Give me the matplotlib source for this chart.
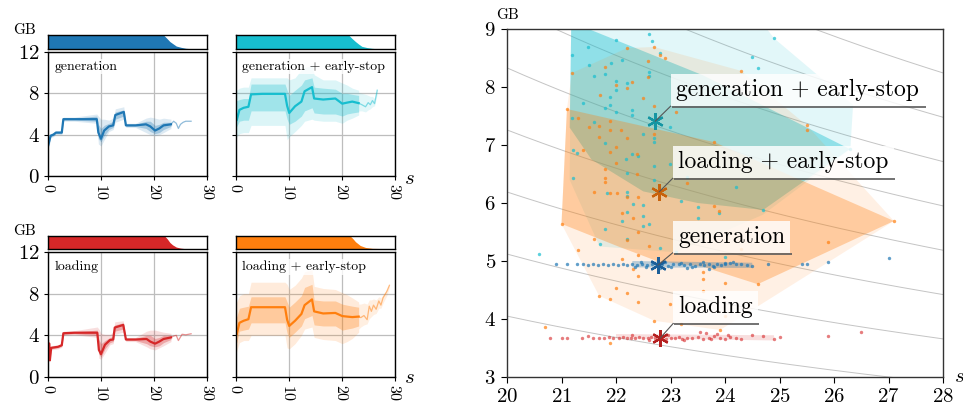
import matplotlib
matplotlib.use("Agg")
import matplotlib.pyplot as plt
import numpy as np

plt.rcParams["font.family"] = ["cmr10", "DejaVu Serif"]
plt.rcParams["mathtext.fontset"] = "cm"
plt.rcParams["axes.formatter.use_mathtext"] = True

BLUE, CYAN, RED, ORANGE = "#1f77b4", "#17becf", "#d62728", "#ff7f0e"

# ---------------- left panels: memory over time (GB vs s) ----------------
# generation
gen_t = [0, 0.3, 0.5, 1.0, 1.5, 2.6, 2.9, 5, 9.2, 9.5, 10.0, 10.6, 11.5, 12.3, 12.7, 14.3, 14.7, 16.5, 18.5, 19.3, 20.2, 21.0, 21.8, 23.2]
gen_med = [2.9, 3.5, 3.9, 4.0, 4.2, 4.2, 5.5, 5.5, 5.5, 4.2, 3.6, 4.4, 4.8, 4.9, 5.9, 6.2, 4.9, 4.9, 5.0, 4.8, 4.4, 4.6, 4.9, 5.0]
gen_in_lo = [2.8, 3.3, 3.8, 3.9, 4.1, 4.1, 5.4, 5.4, 5.3, 3.6, 3.3, 3.9, 4.5, 4.7, 5.5, 5.8, 4.8, 4.8, 4.6, 4.3, 4.1, 4.2, 4.5, 4.8]
gen_in_hi = [3.1, 3.8, 4.0, 4.1, 4.3, 4.3, 5.6, 5.6, 5.8, 5.0, 4.6, 4.9, 5.1, 5.3, 6.2, 6.4, 5.0, 5.0, 5.3, 5.3, 4.9, 5.0, 5.2, 5.2]
gen_out_lo = [2.6, 3.1, 3.7, 3.8, 4.0, 4.0, 5.3, 5.3, 5.1, 3.1, 2.9, 3.5, 4.3, 4.5, 5.2, 5.5, 4.7, 4.7, 4.2, 4.0, 3.9, 4.0, 4.2, 4.6]
gen_out_hi = [3.3, 4.0, 4.1, 4.2, 4.4, 4.4, 5.7, 5.7, 6.0, 5.8, 5.5, 5.5, 5.4, 5.6, 6.5, 6.7, 5.1, 5.1, 5.6, 5.7, 5.6, 5.5, 5.6, 5.5]
gen_tail_t = [23.2, 23.7, 24.2, 24.6, 25.0, 25.5, 26.0, 27.0]
gen_tail = [5.0, 5.3, 5.1, 4.6, 5.0, 5.2, 5.3, 5.3]
gen_surv_t = [0, 21.8, 22.4, 23.0, 23.6, 24.2, 25.1, 26.0, 27.0, 27.1]
gen_surv = [1, 1, 0.77, 0.53, 0.37, 0.21, 0.12, 0.05, 0.02, 0]

# loading
load_t = [0, 0.25, 0.35, 0.6, 1.9, 2.6, 2.9, 5, 9.3, 9.6, 10.0, 10.75, 11.7, 12.3, 12.6, 14.2, 14.7, 16.5, 18.6, 19.3, 20.2, 21.0, 21.8, 23.2]
load_med = [3.2, 3.2, 1.6, 2.8, 2.9, 3.05, 4.2, 4.25, 4.25, 2.6, 2.2, 3.1, 3.55, 3.6, 4.75, 5.0, 3.6, 3.6, 3.65, 3.4, 3.2, 3.4, 3.65, 3.8]
load_in_lo = [3.0, 3.0, 1.5, 2.7, 2.8, 2.95, 4.1, 4.15, 4.0, 2.2, 1.9, 2.7, 3.3, 3.4, 4.4, 4.6, 3.5, 3.5, 3.2, 3.0, 2.9, 3.0, 3.3, 3.6]
load_in_hi = [3.4, 3.4, 1.8, 2.9, 3.0, 3.15, 4.3, 4.35, 4.5, 3.6, 3.2, 3.5, 3.8, 3.9, 5.0, 5.2, 3.7, 3.7, 4.0, 4.0, 3.7, 3.8, 4.0, 4.0]
load_out_lo = [2.8, 2.8, 1.4, 2.6, 2.7, 2.85, 4.0, 4.05, 3.8, 1.8, 1.7, 2.3, 3.1, 3.2, 4.1, 4.3, 3.4, 3.4, 2.9, 2.7, 2.6, 2.8, 3.0, 3.4]
load_out_hi = [3.6, 3.6, 2.0, 3.0, 3.1, 3.25, 4.4, 4.45, 4.8, 4.6, 4.2, 4.1, 4.1, 4.3, 5.3, 5.4, 3.8, 3.8, 4.4, 4.5, 4.5, 4.4, 4.3, 4.2]
load_tail_t = [23.2, 23.7, 24.2, 24.6, 25.3, 26.0, 27.0]
load_tail = [3.8, 3.93, 4.0, 3.5, 4.1, 4.05, 4.15]
load_surv_t = [0, 22.0, 22.5, 23.0, 23.5, 24.2, 25.0, 26.0, 26.7]
load_surv = [1, 1, 0.78, 0.5, 0.32, 0.15, 0.07, 0.02, 0]

# generation + early-stop
ges_t = [0, 0.2, 0.7, 1.5, 2.4, 2.9, 5, 9.3, 9.7, 10.1, 11.2, 12.4, 13.0, 14.4, 14.8, 16.5, 18.8, 20.1, 21.0, 22.0, 23.2]
ges_med = [6.3, 5.4, 6.4, 6.6, 6.7, 7.9, 7.95, 7.95, 6.8, 6.1, 6.75, 7.2, 8.2, 8.6, 7.5, 7.4, 7.5, 7.0, 7.1, 7.2, 7.05]
ges_in_lo = [4.8, 4.8, 5.3, 5.4, 5.4, 6.3, 6.3, 6.3, 5.5, 5.0, 5.3, 5.8, 6.3, 6.6, 6.1, 6.0, 6.0, 5.8, 6.0, 6.1, 6.2]
ges_in_hi = [7.3, 7.3, 7.4, 7.5, 7.5, 8.9, 8.9, 8.9, 8.3, 7.8, 8.3, 8.8, 9.3, 9.5, 8.6, 8.5, 8.4, 8.0, 8.0, 7.9, 7.8]
ges_out_lo = [3.2, 3.8, 4.1, 4.2, 4.2, 4.9, 4.9, 4.9, 3.5, 3.8, 4.3, 4.9, 5.3, 5.5, 5.4, 5.3, 5.3, 5.1, 5.4, 5.6, 5.9]
ges_out_hi = [8.3, 8.3, 8.5, 8.6, 8.6, 9.5, 9.5, 9.5, 9.5, 9.3, 9.5, 10.3, 10.5, 10.7, 9.8, 9.3, 9.3, 9.0, 8.8, 8.5, 8.3]
ges_tail_t = [23.2, 23.8, 24.5, 25.0, 25.4, 25.8, 26.2, 26.7]
ges_tail = [7.05, 6.9, 6.7, 7.1, 6.9, 7.3, 7.0, 8.3]
ges_tail_lo = [6.3, 6.3, 6.2, 6.4, 6.5, 6.7, 6.8, 7.9]
ges_tail_hi = [8.1, 8.0, 7.9, 7.8, 7.7, 7.7, 7.5, 8.5]
ges_surv_t = [0, 21.3, 21.9, 22.6, 23.2, 23.8, 24.8, 25.7, 26.6, 26.8]
ges_surv = [1, 1, 0.77, 0.53, 0.35, 0.19, 0.1, 0.05, 0.02, 0]

# loading + early-stop
les_t = [0, 0.2, 0.7, 1.5, 2.4, 2.9, 5, 9.3, 9.7, 10.1, 11.2, 12.4, 13.0, 14.4, 14.8, 16.5, 18.8, 20.1, 21.0, 22.0, 23.2]
les_med = [4.8, 4.1, 5.2, 5.4, 5.55, 6.7, 6.7, 6.7, 5.5, 4.9, 5.4, 6.05, 6.9, 7.45, 6.3, 6.1, 6.15, 5.85, 5.8, 5.75, 5.8]
les_in_lo = [3.5, 3.3, 4.4, 4.5, 4.6, 5.2, 5.2, 5.2, 4.2, 3.8, 4.3, 4.9, 5.6, 5.9, 5.0, 4.9, 4.9, 4.5, 4.6, 4.7, 4.9]
les_in_hi = [5.8, 5.8, 6.6, 6.7, 6.8, 7.7, 7.7, 7.7, 7.2, 6.7, 7.2, 7.8, 8.6, 8.9, 7.4, 7.3, 7.3, 7.0, 6.9, 6.8, 6.7]
les_out_lo = [2.0, 2.5, 3.3, 3.5, 3.5, 4.0, 4.0, 4.0, 2.8, 2.7, 3.2, 4.0, 4.6, 4.8, 3.8, 3.6, 3.5, 3.2, 3.4, 3.7, 4.3]
les_out_hi = [7.2, 7.2, 7.8, 8.0, 8.0, 9.1, 9.1, 9.1, 8.9, 8.4, 8.8, 9.5, 10.1, 10.3, 8.7, 8.5, 8.4, 8.1, 7.9, 7.6, 7.2]
les_tail_t = [23.2, 23.6, 24.2, 24.8, 25.2, 25.6, 26.0, 26.5, 27.0, 27.4, 27.8, 28.5, 29.0]
les_tail = [5.8, 5.7, 5.9, 5.5, 6.8, 6.3, 6.9, 6.5, 7.3, 6.9, 7.6, 8.2, 8.8]
les_tail_lo = [4.6, 4.8, 5.0, 5.1, 5.6, 5.8, 6.0, 6.1, 6.6, 6.6, 7.1, 7.8, 8.6]
les_tail_hi = [7.0, 7.0, 7.1, 7.0, 7.4, 7.4, 7.5, 7.4, 7.7, 7.6, 7.9, 8.4, 9.0]
les_surv_t = [0, 21.6, 22.1, 22.6, 23.5, 24.5, 25.8, 29.1, 29.2]
les_surv = [1, 1, 0.8, 0.56, 0.27, 0.12, 0.05, 0.02, 0]

# ---------------- right panel: peak memory (GB) vs duration (s) ----------------
gen_px = [20.9, 21.1, 21.28, 21.39, 21.49, 21.58, 21.67, 21.76, 21.85, 21.94, 22.04, 22.13, 22.2, 22.3, 22.39,
          22.48, 22.57, 22.66, 22.75, 22.85, 22.95, 23.05, 23.15, 23.25, 23.35, 23.45, 23.55, 23.62, 23.7, 23.78,
          23.86, 23.92, 24.0, 24.1, 24.2, 24.3, 24.4, 24.5, 24.79, 25.41, 25.5, 25.89, 27.0,
          22.35, 22.55, 22.8, 23.0, 23.2, 23.4, 23.6, 23.8, 24.0, 24.15, 22.45, 22.9, 23.3, 23.7]
gen_py = [4.94, 4.94, 4.94, 4.94, 4.93, 4.94, 4.93, 4.94, 4.93, 4.94, 4.93, 4.94, 4.93, 4.94, 4.93,
          4.94, 4.93, 4.94, 4.93, 4.94, 4.92, 4.94, 4.95, 4.93, 4.94, 4.92, 4.95, 4.93, 4.94, 4.92,
          4.95, 4.93, 4.94, 4.96, 4.94, 4.95, 4.93, 4.92, 4.95, 4.94, 4.95, 4.98, 5.05,
          4.89, 4.9, 4.88, 4.9, 4.97, 4.89, 4.98, 4.9, 4.97, 4.99, 4.98, 4.99, 4.88, 4.87]

load_px = [20.79, 21.0, 21.1, 21.38, 21.48, 21.58, 21.68, 21.78, 21.88, 21.95, 22.05, 22.12, 22.2, 22.28, 22.35,
           22.42, 22.5, 22.58, 22.65, 22.72, 22.85, 22.92, 23.0, 23.08, 23.15, 23.22, 23.3, 23.4, 23.5, 23.6,
           23.7, 23.75, 23.8, 23.9, 24.0, 24.1, 24.2, 24.3, 24.5, 24.7, 24.9, 25.0, 25.89, 26.5,
           22.3, 22.6, 22.95, 23.25, 23.55, 23.65, 23.85, 24.05]
load_py = [3.67, 3.67, 3.67, 3.68, 3.7, 3.68, 3.67, 3.68, 3.69, 3.68, 3.67, 3.69, 3.68, 3.67, 3.68,
           3.69, 3.67, 3.68, 3.69, 3.67, 3.68, 3.66, 3.68, 3.67, 3.69, 3.66, 3.68, 3.67, 3.69, 3.66,
           3.68, 3.65, 3.7, 3.67, 3.66, 3.69, 3.67, 3.66, 3.72, 3.7, 3.66, 3.69, 3.7, 3.78,
           3.72, 3.64, 3.72, 3.64, 3.78, 3.76, 3.74, 3.72]

ges_px = [22.61, 22.66, 22.0, 21.49, 21.19, 22.11, 22.81, 21.91, 21.5, 21.6, 21.8, 22.61, 22.61, 22.0, 22.2,
          22.0, 21.89, 21.8, 21.89, 21.39, 22.29, 22.29, 22.0, 21.19, 21.6, 22.99, 22.5, 22.7, 22.7, 21.8,
          21.21, 21.28, 22.29, 22.4, 22.18, 22.7, 22.99, 22.2, 21.21, 22.7, 23.3, 22.2, 21.83, 22.2, 22.31,
          22.5, 22.2, 22.11, 22.5, 22.5, 22.6, 21.8, 22.2, 21.7, 23.1, 23.5, 23.19, 23.5, 20.59, 22.81,
          24.9, 24.5, 24.6, 26.29, 24.2, 24.7, 23.89, 24.0]
ges_py = [8.91, 8.79, 8.81, 8.69, 8.55, 8.47, 8.58, 8.41, 8.38, 8.19, 8.22, 8.26, 8.19, 8.1, 8.07,
          7.95, 7.83, 7.64, 7.69, 7.72, 7.6, 7.52, 7.57, 7.46, 7.4, 7.31, 7.19, 7.12, 7.05, 7.03,
          6.91, 6.86, 6.84, 6.81, 6.76, 6.64, 6.67, 6.52, 6.43, 6.4, 6.45, 6.19, 6.17, 6.12, 5.98,
          5.97, 5.84, 5.69, 5.78, 5.6, 5.64, 5.55, 5.38, 5.29, 5.16, 5.74, 6.03, 5.93, 5.12, 5.22,
          8.84, 8.52, 8.33, 6.93, 6.28, 5.88, 5.83, 5.07]

les_px = [22.7, 22.2, 22.81, 22.9, 21.19, 21.8, 22.29, 22.59, 22.59, 22.0, 22.2, 21.71, 22.5, 21.1, 22.7,
          23.1, 21.89, 21.3, 21.5, 21.69, 21.89, 22.09, 22.2, 21.69, 22.7, 21.39, 22.0, 22.39, 21.89, 22.0,
          21.8, 21.8, 21.8, 22.39, 21.6, 21.89, 23.3, 22.02, 22.2, 22.4, 22.11, 22.31, 22.4, 21.0, 21.6,
          22.2, 21.3, 22.6, 22.4, 22.11, 22.31, 22.4, 22.0, 22.2, 21.69, 21.89, 22.4, 22.99, 22.7, 23.19,
          20.7, 21.89, 24.29, 25.5, 25.5, 23.8, 23.8, 23.89, 27.1, 25.89, 24.29, 23.6, 24.6, 24.0, 23.6,
          23.6, 23.91, 24.0]
les_py = [8.69, 8.67, 8.55, 8.5, 8.24, 8.34, 8.09, 8.17, 8.45, 8.03, 7.98, 7.86, 7.81, 7.62, 7.67,
          7.57, 7.41, 7.46, 7.31, 7.33, 7.26, 7.26, 7.12, 7.14, 7.19, 6.91, 6.96, 6.84, 6.88, 6.69,
          6.59, 6.43, 6.36, 6.5, 6.19, 6.17, 6.34, 6.17, 6.1, 6.1, 5.83, 5.74, 5.5, 5.64, 5.38,
          5.36, 5.19, 5.26, 5.1, 5.03, 4.86, 4.74, 4.53, 4.45, 4.4, 4.34, 4.29, 4.26, 3.97, 3.91,
          3.86, 3.59, 8.28, 7.34, 7.26, 7.05, 5.95, 5.86, 5.69, 5.33, 5.21, 4.81, 4.6, 4.62, 4.69,
          4.48, 3.81, 4.05]

# hull outlines (outer = lighter, inner = darker)
ges_out_hx = [21.18, 24.36, 24.9, 26.35, 26.3, 24.7, 23.1, 21.7, 21.15]
ges_out_hy = [9.5, 9.5, 8.84, 7.69, 6.93, 5.8, 5.15, 5.25, 6.4]
ges_in_hx = [21.18, 23.6, 26.29, 24.7, 23.5, 22.5, 21.55, 21.15]
ges_in_hy = [9.12, 8.2, 6.93, 5.88, 6.0, 6.2, 6.75, 7.3]
les_out_hx = [21.1, 21.19, 22.2, 22.7, 24.29, 25.5, 27.1, 23.91, 22.7, 21.69, 21.0]
les_out_hy = [7.62, 8.24, 8.67, 8.69, 8.28, 7.34, 5.69, 3.81, 3.97, 4.4, 5.64]
les_in_hx = [21.1, 23.8, 27.1, 24.6, 23.6, 22.75, 22.07, 21.0]
les_in_hy = [7.62, 7.05, 5.69, 4.6, 4.9, 5.0, 5.24, 5.64]
gen_band_hx = [22.3, 24.5, 24.5, 22.3]
gen_band_hy = [4.89, 4.88, 4.97, 5.0]
load_band_hx = [22.0, 24.9, 24.9, 22.0]
load_band_hy = [3.67, 3.63, 3.72, 3.74]

# medians (stars) and their labels
star_x = [22.77, 22.81, 22.72, 22.79]
star_y = [4.93, 3.67, 7.41, 6.19]
star_names = ["generation", "loading", "generation + early-stop", "loading + early-stop"]
label_xy = [(23.14, 5.41), (23.14, 4.21), (23.1, 7.95), (23.14, 6.71)]

# iso GB*s reference curves
iso_cost = [81.0, 102.4, 123.8, 145.2, 166.6, 188.0, 209.4, 230.8, 252.2]

W, H = 963, 416


def frac_box(x0, y0, x1, y1):
    # pixel box (top-left origin) -> figure fraction rect
    return [x0 / W, 1 - y1 / H, (x1 - x0) / W, (y1 - y0) / H]


def draw_panel(ax, strip, color, label, t, med, in_lo, in_hi, out_lo, out_hi,
               tail_t, tail_v, surv_t, surv, show_y, tail_lo=None, tail_hi=None):
    ax.fill_between(t, out_lo, out_hi, color=color, alpha=0.15, lw=0)
    ax.fill_between(t, in_lo, in_hi, color=color, alpha=0.3, lw=0)
    if tail_lo is not None:
        ax.fill_between(tail_t, tail_lo, tail_hi, color=color, alpha=0.12, lw=0)
    ax.plot(tail_t, tail_v, color=color, lw=0.9, alpha=0.5)
    ax.plot(t, med, color=color, lw=1.6)
    ax.set_xlim(0, 30)
    ax.set_ylim(0, 12)
    ax.set_xticks([0, 10, 20, 30])
    ax.set_yticks([0, 4, 8, 12])
    ax.grid(True, color="#bdbdbd", lw=0.9)
    ax.set_axisbelow(True)
    ax.tick_params(axis="x", labelsize=11.5, labelrotation=-90, length=3, pad=2)
    ax.tick_params(axis="y", labelsize=15, length=3, pad=3, labelleft=show_y)
    for sp in ax.spines.values():
        sp.set_color("black")
        sp.set_linewidth(1.0)
    ax.text(0.04, 0.93, label, transform=ax.transAxes, fontsize=10, va="top", ha="left",
            bbox=dict(boxstyle="square,pad=0.1", fc="white", ec="none", alpha=0.8))

    strip.fill_between(surv_t, 0, surv, color=color, lw=0)
    strip.set_xlim(0, 30)
    strip.set_ylim(0, 1)
    strip.set_xticks([])
    strip.set_yticks([])
    for sp in strip.spines.values():
        sp.set_color("black")
        sp.set_linewidth(1.0)


fig = plt.figure(figsize=(9.63, 4.16), dpi=100)

panels = [
    (48, 52, 176, 35, 49, BLUE, "generation", gen_t, gen_med, gen_in_lo, gen_in_hi, gen_out_lo, gen_out_hi,
     gen_tail_t, gen_tail, gen_surv_t, gen_surv, True, None, None),
    (235.7, 52, 176, 35, 49, CYAN, "generation + early-stop", ges_t, ges_med, ges_in_lo, ges_in_hi,
     ges_out_lo, ges_out_hi, ges_tail_t, ges_tail, ges_surv_t, ges_surv, False, ges_tail_lo, ges_tail_hi),
    (48, 252, 377, 236, 249, RED, "loading", load_t, load_med, load_in_lo, load_in_hi, load_out_lo,
     load_out_hi, load_tail_t, load_tail, load_surv_t, load_surv, True, None, None),
    (235.7, 252, 377, 236, 249, ORANGE, "loading + early-stop", les_t, les_med, les_in_lo, les_in_hi,
     les_out_lo, les_out_hi, les_tail_t, les_tail, les_surv_t, les_surv, False, les_tail_lo, les_tail_hi),
]
for p in panels:
    x0, y0, y1, s0, s1 = p[:5]
    x1 = x0 + 159
    ax = fig.add_axes(frac_box(x0, y0, x1, y1))
    strip = fig.add_axes(frac_box(x0, s0, x1, s1))
    draw_panel(ax, strip, *p[5:])

fig.text(0.025, 0.928, "GB", fontsize=11, ha="center", va="center")
fig.text(0.025, 0.445, "GB", fontsize=11, ha="center", va="center")
fig.text(0.425, 0.570, "$s$", fontsize=15, ha="center", va="center")
fig.text(0.425, 0.092, "$s$", fontsize=15, ha="center", va="center")

# right panel
ax = fig.add_axes(frac_box(507, 29, 943, 377))
xs = np.linspace(20, 28, 200)
for c in iso_cost:
    ax.plot(xs, c / xs, color="#c4c4c4", lw=0.7, zorder=1)

ax.fill(ges_out_hx, ges_out_hy, color=CYAN, alpha=0.12, lw=0, zorder=2)
ax.fill(ges_in_hx, ges_in_hy, color=CYAN, alpha=0.4, lw=0, zorder=2)
ax.fill(les_out_hx, les_out_hy, color=ORANGE, alpha=0.11, lw=0, zorder=2)
ax.fill(les_in_hx, les_in_hy, color=ORANGE, alpha=0.32, lw=0, zorder=2)
ax.fill(gen_band_hx, gen_band_hy, color=BLUE, alpha=0.3, lw=0, zorder=2)
ax.fill(load_band_hx, load_band_hy, color=RED, alpha=0.15, lw=0, zorder=2)

ax.scatter(ges_px, ges_py, s=6, color=CYAN, alpha=0.7, lw=0, zorder=3)
ax.scatter(les_px, les_py, s=6, color=ORANGE, alpha=0.7, lw=0, zorder=3)
ax.scatter(gen_px, gen_py, s=6, color=BLUE, alpha=0.7, lw=0, zorder=3)
ax.scatter(load_px, load_py, s=6, color=RED, alpha=0.6, lw=0, zorder=3)

star_colors = ["#1c5f99", "#b52020", "#1596a3", "#c8620c"]
labels = []
for sx, sy, name, lxy, sc in zip(star_x, star_y, star_names, label_xy, star_colors):
    ax.plot([sx], [sy], marker=(6, 2, 0), ms=12, mew=1.6, color=sc, zorder=5)
    txt = ax.annotate(name, xy=(sx, sy), xytext=lxy, fontsize=17, ha="left", va="center", zorder=6,
                      bbox=dict(boxstyle="square,pad=0.22", fc="white", ec="none", alpha=0.82),
                      arrowprops=dict(arrowstyle="-", color="#555555", lw=0.8, shrinkA=0, shrinkB=0,
                                      relpos=(0, 0)))
    labels.append(txt)

ax.set_xlim(20, 28)
ax.set_ylim(3, 9)
ax.set_xticks(range(20, 29))
ax.set_yticks(range(3, 10))
ax.tick_params(labelsize=15, length=4, pad=4)
for sp in ax.spines.values():
    sp.set_color("#333333")
    sp.set_linewidth(1.0)
fig.text(0.5265, 0.964, "GB", fontsize=11, ha="center", va="center")
fig.text(0.9958, 0.093, "$s$", fontsize=15, ha="center", va="center")

# thin shadow line under each label box
fig.canvas.draw()
inv = ax.transData.inverted()
for txt in labels:
    bb = txt.get_bbox_patch().get_window_extent()
    (lx0, ly0), (lx1, _) = inv.transform([(bb.x0 + 1.5, bb.y0 - 1.0), (bb.x1 + 1.5, bb.y0 - 1.0)])
    ax.plot([lx0, lx1], [ly0, ly0], color="#5a5a5a", lw=1.2, zorder=7, solid_capstyle="butt")

fig.savefig("out.png", dpi=100)
